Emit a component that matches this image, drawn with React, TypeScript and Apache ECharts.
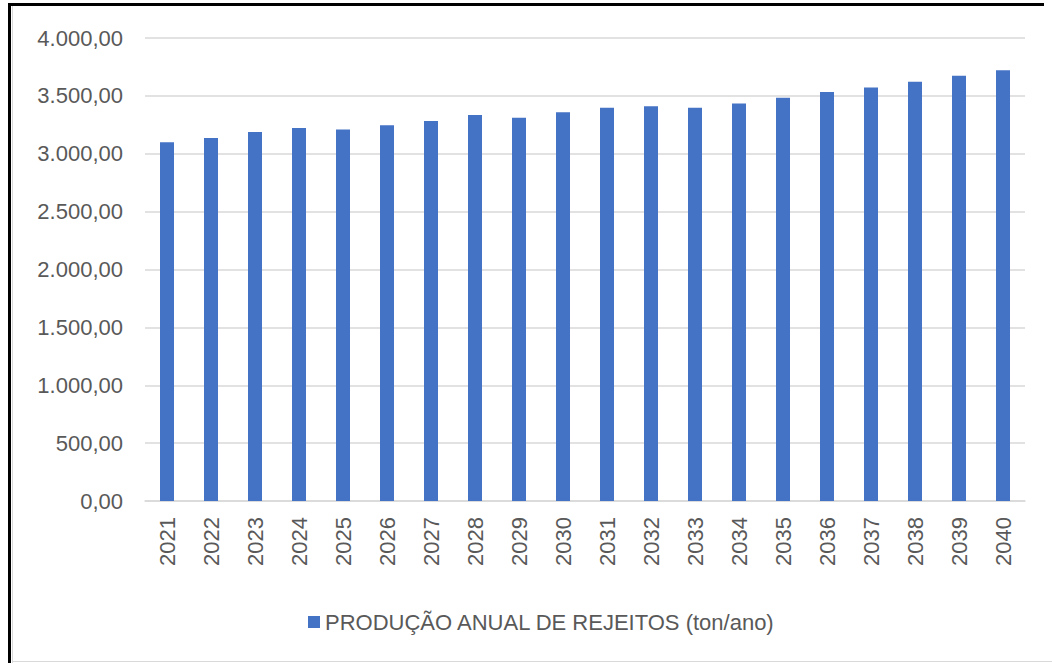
import React, { useEffect, useRef } from "react";
import * as echarts from "echarts";

const years = ["2021","2022","2023","2024","2025","2026","2027","2028","2029","2030","2031","2032","2033","2034","2035","2036","2037","2038","2039","2040"];
const values = [3100, 3136, 3188, 3222, 3210, 3247, 3284, 3335, 3310, 3358, 3398, 3410, 3398, 3435, 3483, 3534, 3572, 3623, 3674, 3722];
const seriesName = "PRODUÇÃO ANUAL DE REJEITOS (ton/ano)";

const fmt = (v: number) =>
  v.toLocaleString("pt-BR", { minimumFractionDigits: 2, maximumFractionDigits: 2 });

export default function App() {
  const ref = useRef<HTMLDivElement>(null);
  useEffect(() => {
    if (!ref.current) return;
    const chart = echarts.init(ref.current, null, { renderer: "svg" });
    const font = "'Liberation Sans', Arial, sans-serif";
    chart.setOption({
      animation: false,
      backgroundColor: "#ffffff",
      textStyle: { fontFamily: font },
      grid: { left: 145, right: 27, top: 38, bottom: 162, containLabel: false },
      xAxis: {
        type: "category",
        data: years,
        axisLine: { lineStyle: { color: "#D9D9D9", width: 1.5 } },
        axisTick: { show: false },
        axisLabel: { rotate: 90, color: "#595959", fontSize: 22, fontFamily: font, margin: 16 },
      },
      yAxis: {
        type: "value",
        min: 0,
        max: 4000,
        interval: 500,
        axisLine: { show: false },
        axisTick: { show: false },
        splitLine: { lineStyle: { color: "#D9D9D9", width: 1.5 } },
        axisLabel: { color: "#595959", fontSize: 22, fontFamily: font, margin: 22, formatter: (v: number) => fmt(v) },
      },
      legend: {
        data: [seriesName],
        left: 303,
        top: 606,
        icon: "rect",
        itemWidth: 12,
        itemHeight: 12,
        itemGap: 6,
        textStyle: { color: "#595959", fontSize: 22, fontFamily: font },
      },
      series: [
        {
          name: seriesName,
          type: "bar",
          data: values,
          barWidth: 14,
          itemStyle: { color: "#4472C4" },
        },
      ],
      graphic: [
        { type: "rect", shape: { x: 8, y: 3, width: 1036, height: 3 }, style: { fill: "#000000" } },
        { type: "rect", shape: { x: 8, y: 3, width: 3, height: 660 }, style: { fill: "#000000" } },
        { type: "rect", shape: { x: 12, y: 6, width: 1, height: 657 }, style: { fill: "#D9D9D9" } },
        { type: "rect", shape: { x: 12, y: 661, width: 1040, height: 1 }, style: { fill: "#D9D9D9" } },
      ],
    });
    return () => chart.dispose();
  }, []);
  return (
    <div style={{ position: "fixed", left: 0, top: 0, width: 1052, height: 663, background: "#fff" }}>
      <div ref={ref} style={{ width: 1052, height: 663 }} />
    </div>
  );
}
